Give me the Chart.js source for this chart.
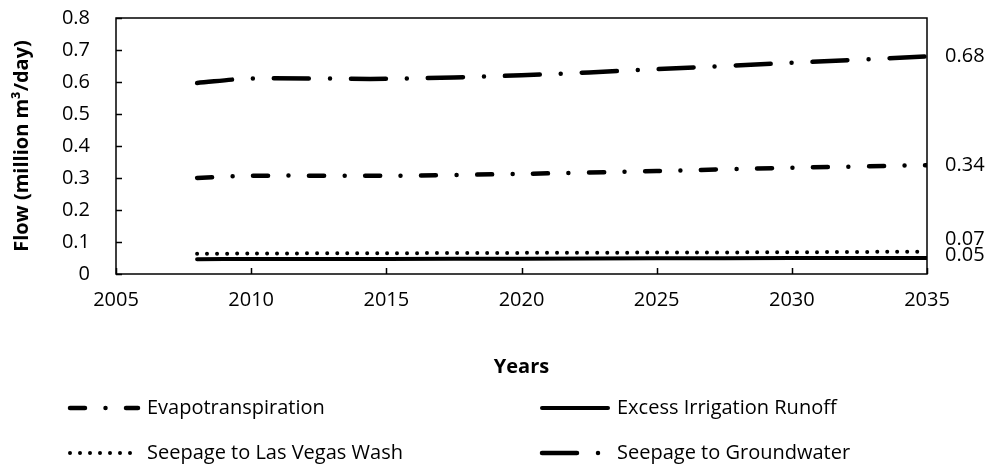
<!DOCTYPE html>
<html>
<head>
<meta charset="utf-8">
<script src="https://cdn.jsdelivr.net/npm/chart.js@4.4.1/dist/chart.umd.min.js"></script>
<style>
  html, body { margin: 0; padding: 0; background: #fff; }
</style>
</head>
<body>
<canvas id="flowChart" width="1000" height="469"></canvas>
<script>
"use strict"

// flows in million m3/day
const years = [2008, 2010, 2015, 2020, 2025, 2030, 2035];
const evapotranspiration = [0.300, 0.307, 0.307, 0.313, 0.322, 0.332, 0.34];
const irrigationRunoff = [0.046, 0.047, 0.047, 0.048, 0.049, 0.050, 0.05];
const lasVegasWash = [0.063, 0.064, 0.065, 0.066, 0.067, 0.068, 0.07];
const groundwater = [0.597, 0.611, 0.610, 0.621, 0.640, 0.660, 0.68];

const seriesNames = ['Evapotranspiration', 'Excess Irrigation Runoff', 'Seepage to Las Vegas Wash', 'Seepage to Groundwater'];
const xTicks = [2005, 2010, 2015, 2020, 2025, 2030, 2035];
const yTicks = [0, 0.1, 0.2, 0.3, 0.4, 0.5, 0.6, 0.7, 0.8];

const FONT = '"Open Sans", "Noto Sans", sans-serif';
const FONT_SIZE = 20;

function points(values) {
    return years.map((yr, i) => ({ x: yr, y: values[i] }));
}

function lineSet(label, values, width, dash) {
    return {
        label: label,
        data: points(values),
        borderColor: '#000',
        backgroundColor: '#000',
        borderWidth: width,
        borderDash: dash,
        borderCapStyle: 'round',
        borderJoinStyle: 'round',
        pointRadius: 0,
        tension: 0.3,
        fill: false
    };
}

const datasets = [
    lineSet(seriesNames[0], evapotranspiration, 4.5, [15, 20.5, 0, 20.5]),
    lineSet(seriesNames[1], irrigationRunoff, 4, []),
    lineSet(seriesNames[2], lasVegasWash, 4, [0, 10]),
    lineSet(seriesNames[3], groundwater, 4.5, [35, 21, 0, 21])
];

// frame around the plot + inward tick marks
const framePlugin = {
    id: 'frame',
    afterDraw(chart) {
        const ctx = chart.ctx;
        const a = chart.chartArea;
        const xs = chart.scales.x, ys = chart.scales.y;
        ctx.save();
        ctx.strokeStyle = '#000';
        ctx.lineWidth = 1.5;
        ctx.strokeRect(a.left, a.top, a.right - a.left, a.bottom - a.top);
        ctx.beginPath();
        xTicks.forEach(v => {
            const px = Math.round(xs.getPixelForValue(v)) + 0.5;
            ctx.moveTo(px, a.bottom);
            ctx.lineTo(px, a.bottom - 6);
        });
        yTicks.forEach(v => {
            const py = Math.round(ys.getPixelForValue(v)) + 0.5;
            ctx.moveTo(a.left, py);
            ctx.lineTo(a.left + 6, py);
        });
        ctx.stroke();
        ctx.restore();
    }
};

// value of the last point written to the right of the plot
const endLabelPlugin = {
    id: 'endLabels',
    afterDraw(chart) {
        const ctx = chart.ctx;
        const ys = chart.scales.y;
        const items = datasets.map(ds => {
            const last = ds.data[ds.data.length - 1].y;
            return { text: String(last), y: ys.getPixelForValue(last) };
        }).sort((p, q) => q.y - p.y);
        // keep labels from overlapping, moving upward
        const gap = 16;
        items[0].y -= 3;
        for (let i = 1; i < items.length; i++) {
            if (items[i - 1].y - items[i].y < gap) items[i].y = items[i - 1].y - gap;
        }
        ctx.save();
        ctx.fillStyle = '#000';
        ctx.font = FONT_SIZE + 'px ' + FONT;
        ctx.textAlign = 'left';
        ctx.textBaseline = 'middle';
        items.forEach(it => ctx.fillText(it.text, chart.chartArea.right + 18, it.y));
        ctx.restore();
    }
};

// two-column legend under the axis title
const legendPlugin = {
    id: 'lineLegend',
    afterDraw(chart) {
        const ctx = chart.ctx;
        const cols = [{ x0: 68, x1: 140, tx: 147 }, { x0: 540, x1: 610, tx: 617 }];
        const rows = [408, 453];
        ctx.save();
        datasets.forEach((ds, i) => {
            const c = cols[i % 2];
            const y = rows[Math.floor(i / 2)];
            ctx.beginPath();
            ctx.strokeStyle = '#000';
            ctx.lineWidth = ds.borderWidth;
            ctx.lineCap = 'round';
            ctx.setLineDash(ds.borderDash);
            ctx.moveTo(c.x0 + 2, y);
            ctx.lineTo(c.x1 - 2, y);
            ctx.stroke();
            ctx.setLineDash([]);
            ctx.fillStyle = '#000';
            ctx.font = FONT_SIZE + 'px ' + FONT;
            ctx.textAlign = 'left';
            ctx.textBaseline = 'middle';
            ctx.fillText(ds.label, c.tx, y);
        });
        ctx.restore();
    }
};

const flowChart = new Chart(document.getElementById('flowChart'), {
    type: 'line',
    data: { datasets: datasets },
    options: {
        responsive: false,
        animation: false,
        layout: { padding: { top: 18, right: 73, bottom: 85, left: 0 } },
        plugins: {
            legend: { display: false },
            tooltip: { enabled: false }
        },
        scales: {
            x: {
                type: 'linear',
                min: 2005,
                max: 2035,
                afterBuildTicks: s => { s.ticks = xTicks.map(v => ({ value: v })); },
                afterFit: s => { s.height = 110; s.paddingLeft = 0; s.paddingRight = 0; },
                grid: { display: false, drawTicks: false },
                border: { display: false },
                ticks: {
                    padding: 14,
                    color: '#000',
                    font: { family: FONT, size: FONT_SIZE },
                    callback: v => String(v)
                },
                title: {
                    display: true,
                    text: 'Years',
                    color: '#000',
                    font: { family: FONT, size: FONT_SIZE, weight: 'bold' },
                    padding: { top: 0, bottom: 5 }
                }
            },
            y: {
                min: 0,
                max: 0.8,
                afterBuildTicks: s => { s.ticks = yTicks.map(v => ({ value: v })); },
                afterFit: s => { s.width = 116; s.paddingTop = 0; s.paddingBottom = 0; },
                grid: { display: false, drawTicks: false },
                border: { display: false },
                ticks: {
                    padding: 26,
                    color: '#000',
                    font: { family: FONT, size: FONT_SIZE },
                    callback: v => (v === 0 ? '0' : v.toFixed(1))
                },
                title: {
                    display: true,
                    text: 'Flow (million m³/day)',
                    color: '#000',
                    font: { family: FONT, size: FONT_SIZE, weight: 'bold' },
                    padding: { top: 10, bottom: 0 }
                }
            }
        }
    },
    plugins: [framePlugin, endLabelPlugin, legendPlugin]
});
</script>
</body>
</html>
